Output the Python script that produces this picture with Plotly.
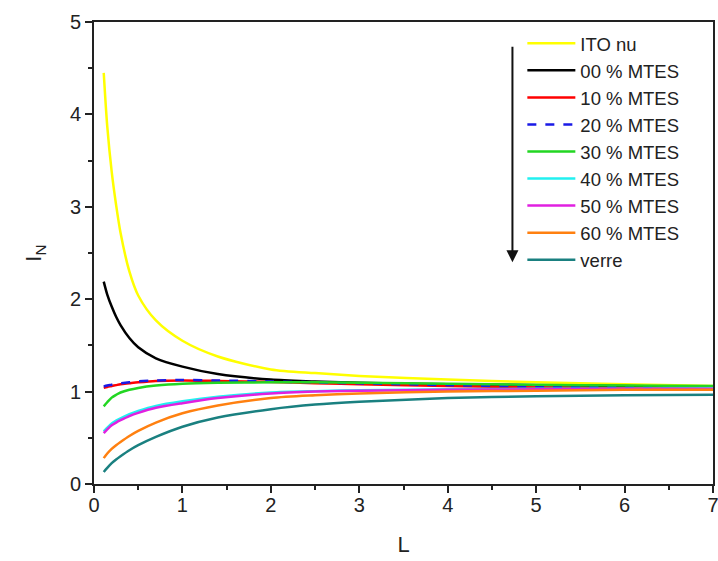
import plotly.graph_objects as go

L = [0.11, 0.15, 0.2, 0.25, 0.3, 0.4, 0.5, 0.7, 1.0, 1.4, 2.0, 2.5, 3.0, 4.0, 5.0, 6.0, 7.0]

ito_nu  = [4.45, 3.87, 3.38, 3.02, 2.72, 2.30, 2.04, 1.77, 1.55, 1.38, 1.24, 1.20, 1.17, 1.13, 1.10, 1.08, 1.06]
mtes_00 = [2.19, 2.05, 1.92, 1.81, 1.72, 1.58, 1.48, 1.36, 1.27, 1.19, 1.13, 1.11, 1.095, 1.08, 1.07, 1.06, 1.05]
mtes_10 = [1.04, 1.05, 1.06, 1.07, 1.08, 1.09, 1.10, 1.115, 1.12, 1.115, 1.105, 1.09, 1.08, 1.06, 1.045, 1.035, 1.03]
mtes_20 = [1.055, 1.065, 1.075, 1.085, 1.09, 1.10, 1.11, 1.12, 1.125, 1.12, 1.11, 1.10, 1.09, 1.07, 1.055, 1.045, 1.04]
mtes_30 = [0.84, 0.885, 0.935, 0.965, 0.99, 1.02, 1.04, 1.065, 1.085, 1.095, 1.10, 1.10, 1.095, 1.085, 1.075, 1.065, 1.06]
mtes_40 = [0.57, 0.61, 0.655, 0.685, 0.71, 0.755, 0.79, 0.845, 0.895, 0.945, 0.99, 1.005, 1.015, 1.025, 1.03, 1.03, 1.035]
mtes_50 = [0.55, 0.59, 0.635, 0.665, 0.69, 0.735, 0.77, 0.825, 0.875, 0.93, 0.98, 1.00, 1.01, 1.02, 1.025, 1.03, 1.03]
mtes_60 = [0.28, 0.33, 0.38, 0.42, 0.455, 0.52, 0.575, 0.665, 0.765, 0.85, 0.93, 0.96, 0.98, 1.00, 1.01, 1.02, 1.02]
verre   = [0.13, 0.175, 0.225, 0.265, 0.30, 0.365, 0.42, 0.51, 0.62, 0.72, 0.81, 0.86, 0.89, 0.93, 0.95, 0.96, 0.965]

names = ["ITO nu", "00 % MTES", "10 % MTES", "20 % MTES", "30 % MTES",
         "40 % MTES", "50 % MTES", "60 % MTES", "verre"]
series = [ito_nu, mtes_00, mtes_10, mtes_20, mtes_30, mtes_40, mtes_50, mtes_60, verre]
colors = ["#FFFF00", "#000000", "#FF0000", "#1A1AE6", "#22D622",
          "#22F0F0", "#E020E0", "#FF8010", "#1A8080"]
dashes = ["solid", "solid", "solid", "dash", "solid", "solid", "solid", "solid", "solid"]

fig = go.Figure()
for n, s, c, d in zip(names, series, colors, dashes):
    fig.add_trace(go.Scatter(x=L, y=s, mode="lines", name=n,
                             line=dict(color=c, width=2.5, dash=d, shape="spline", smoothing=0.8)))

font = "Liberation Sans, Arial, sans-serif"
axis_common = dict(showline=True, linecolor="#222", linewidth=2, mirror=True,
                   ticks="outside", ticklen=7, tickwidth=2, tickcolor="#222",
                   showgrid=False, zeroline=False, automargin=False,
                   ticklabeloverflow="allow",
                   tickfont=dict(family=font, size=20, color="#222"),
                   minor=dict(ticks="outside", ticklen=4, tickwidth=2, tickcolor="#222", dtick=0.5))

fig.update_layout(
    width=718, height=561,
    margin=dict(l=94, r=5, t=22, b=77),
    paper_bgcolor="white", plot_bgcolor="white",
    font=dict(family=font, color="#222"),
    xaxis=dict(range=[0, 7], dtick=1, tick0=0, ticklabelstandoff=-5,
               title=dict(text="L", font=dict(family=font, size=22), standoff=22),
               **axis_common),
    yaxis=dict(range=[0, 5], dtick=1, tick0=0,
               title=dict(text="I<sub>N</sub>", font=dict(family=font, size=22), standoff=22),
               **axis_common),
    legend=dict(x=0.692, y=0.994, xanchor="left", yanchor="top",
                bgcolor="rgba(0,0,0,0)", borderwidth=0,
                font=dict(family=font, size=18.5, color="#222"),
                itemwidth=48, tracegroupgap=0),
    showlegend=True,
)

fig.add_annotation(x=0.676, y=0.48, xref="paper", yref="paper",
                   ax=0, ay=-217, axref="pixel", ayref="pixel",
                   showarrow=True, arrowhead=2, arrowsize=1.2, arrowwidth=2, arrowcolor="#111", text="")

fig.write_html("out.html", config={"displayModeBar": False},
               post_script="document.body.style.margin='0';document.body.style.overflow='hidden';")
